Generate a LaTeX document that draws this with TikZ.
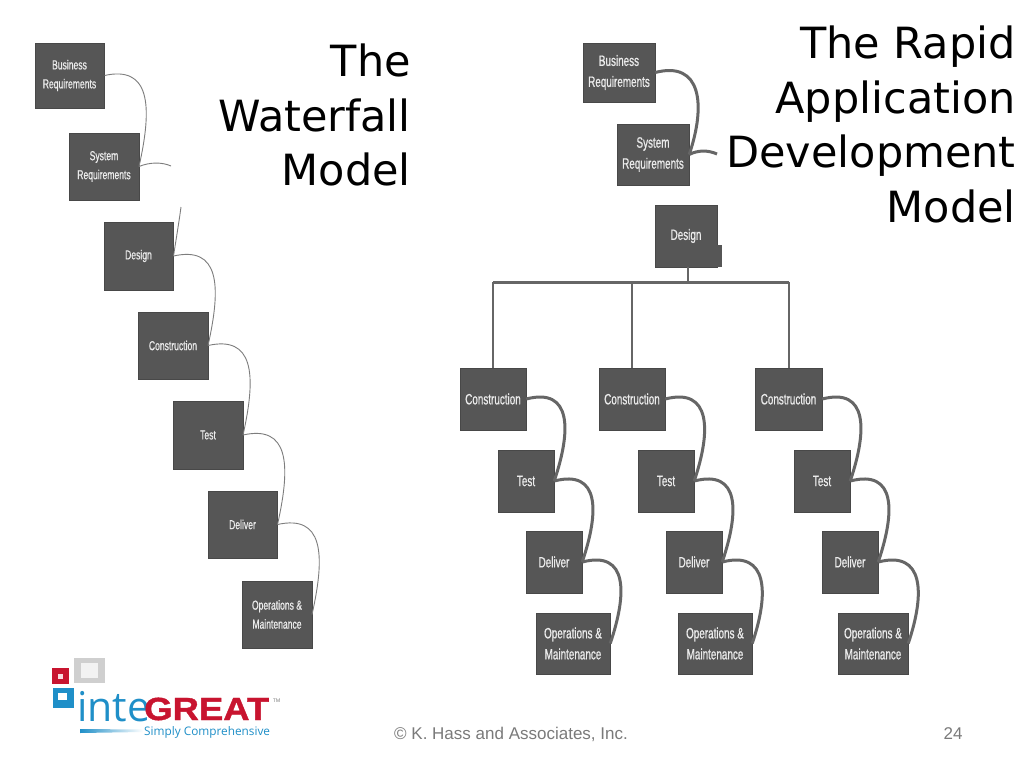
\documentclass[tikz,border=0pt]{standalone}
\usepackage{fontspec}
\setmainfont{Liberation Sans}
\newfontfamily\titlefont{DejaVu Sans}
\newfontfamily\boxfont[FakeStretch=0.66,FakeBold=0.7]{Liberation Sans}
\newfontfamily\logofont{Open Sans}
\newfontfamily\greatfont[FakeStretch=1.14,FakeBold=1.2]{Liberation Sans Bold}
\definecolor{boxgray}{HTML}{565656}
\definecolor{edgegray}{HTML}{484848}
\definecolor{linkgray}{HTML}{666666}
\definecolor{logored}{HTML}{C8142F}
\definecolor{logoblue}{HTML}{1F8FC8}
\definecolor{logogray}{HTML}{CFCFCF}
\definecolor{foot}{HTML}{7A7A7A}
\tikzset{
  wbox/.style={fill=boxgray,draw=edgegray,line width=0.4pt,text=white!92!black,inner sep=0pt,align=center,minimum width=69.6pt,minimum height=66.6pt,font=\boxfont\fontsize{13}{19}\selectfont},
  rbox/.style 2 args={fill=boxgray,draw=edgegray,line width=0.4pt,text=white!92!black,inner sep=0pt,align=center,minimum width=#1pt,minimum height=#2pt,font=\boxfont\fontsize{15}{21}\selectfont},
  thin link/.style={draw=linkgray!85,line width=0.9pt},
  thick link/.style={draw=linkgray,line width=3pt},
  tree/.style={draw=linkgray,line width=2pt},
  bigtitle/.style={inner sep=0pt,align=right,anchor=north east,font=\titlefont\fontsize{43}{54.5}\selectfont},
}
\newcommand{\wlink}[2]{\draw[thin link] (#1.east) .. controls +(45,-10) and +(14,-62) .. (#2.east);}
\newcommand{\rlink}[2]{\draw[thick link] (#1.east) .. controls +(46,-12) and +(17,-50) .. (#2.east);}
\begin{document}
\begin{tikzpicture}[x=1pt,y=-1pt]
\useasboundingbox (0,0) rectangle (1024,768);
\fill[white] (0,0) rectangle (1024,768);

% titles
\node[bigtitle] (t1) at (411,44) {The\\Waterfall\\Model};
\node[bigtitle] (t2) at (1016,26) {The Rapid\\Application\\Development\\Model};

% waterfall
\node[wbox,minimum height=65pt] (a1) at (69.5,75.5) {Business\\Requirements};
\node[wbox] (a2) at (104,166.5) {System\\Requirements};
\node[wbox,minimum height=68pt] (a3) at (138.5,256) {Design};
\node[wbox] (a4) at (173,345.5) {Construction};
\node[wbox,minimum height=68pt] (a5) at (208,435) {Test};
\node[wbox] (a6) at (242.5,524.5) {Deliver};
\node[wbox] (a7) at (277,614.5) {Operations \&\\Maintenance};
\coordinate (g1) at (171,166);
\coordinate (g2) at (181,207);
\wlink{a1}{a2}
\draw[thin link] (a2.east) .. controls (150,162) and (162,162) .. (g1);
\draw[thin link] (g2) .. controls (179,222) and (176,240) .. (a3.east);
\wlink{a3}{a4}
\wlink{a4}{a5}
\wlink{a5}{a6}
\wlink{a6}{a7}

% RAD
\node[rbox={72}{59}] (b1) at (619,72.5) {Business\\Requirements};
\node[rbox={72}{61}] (b2) at (653,154.5) {System\\Requirements};
\node[rbox={62}{62}] (b3) at (686,236) {Design};
\fill[boxgray] (714,245) rectangle (722,267);
\coordinate (g3) at (717,154);
\rlink{b1}{b2}
\draw[thick link] (b2.east) .. controls (698,150) and (708,150) .. (g3);

\node[rbox={66}{62}] (c1) at (493,399) {Construction};
\node[rbox={56}{62}] (d1) at (526,481) {Test};
\node[rbox={56}{62}] (e1) at (554,562) {Deliver};
\node[rbox={74}{61}] (f1) at (573,643.5) {Operations \&\\Maintenance};
\node[rbox={66}{62}] (c2) at (632,399) {Construction};
\node[rbox={56}{62}] (d2) at (666,481) {Test};
\node[rbox={56}{62}] (e2) at (694,562) {Deliver};
\node[rbox={74}{61}] (f2) at (715,643.5) {Operations \&\\Maintenance};
\node[rbox={67}{62}] (c3) at (788.5,399) {Construction};
\node[rbox={56}{62}] (d3) at (822,481) {Test};
\node[rbox={56}{62}] (e3) at (850,562) {Deliver};
\node[rbox={70}{61}] (f3) at (873,643.5) {Operations \&\\Maintenance};

\coordinate (bus) at (688,282);
\draw[tree] (688,267) -- (bus);
\draw[tree,line width=3pt] (c1.north |- bus) -- (c3.north |- bus);
\draw[tree] (c1.north |- bus) -- (c1.north);
\draw[tree] (c2.north |- bus) -- (c2.north);
\draw[tree] (c3.north |- bus) -- (c3.north);

\foreach \n in {1,2,3}{
  \rlink{c\n}{d\n}
  \rlink{d\n}{e\n}
  \rlink{e\n}{f\n}
}

% logo
\fill[logored] (52,668) rectangle (69,684);
\fill[white!85!logored] (58,674) rectangle (63,679);
\fill[logogray] (74,658) rectangle (105,683);
\fill[white!95!black] (81,663) rectangle (98,678);
\fill[logoblue] (53,688) rectangle (74,708);
\fill[white] (58,693) rectangle (67,700);
\node[inner sep=0pt,anchor=base west,text=logoblue,font=\logofont\fontsize{41}{41}\selectfont] (l1) at (77,721) {inte};
\node[inner sep=0pt,anchor=base west,text=logored,font=\greatfont\fontsize{32}{32}\selectfont] (l2) at (144,720) {GREAT};
\node[inner sep=0pt,anchor=base west,text=black!55,font=\logofont\fontsize{5}{5}\selectfont] (l3) at (273,702) {TM};
\node[inner sep=0pt,anchor=base west,text=logoblue,font=\logofont\fontsize{11.8}{12}\selectfont] (l4) at (144,735) {Simply Comprehensive};
\shade[left color=logoblue,right color=white] (80,729) -- (143,729.5) -- (143,732) -- (80,733) -- cycle;

% footer
\node[inner sep=0pt,anchor=base,text=foot,font=\fontsize{17}{17}\selectfont] (fa) at (511,739) {© K. Hass and Associates, Inc.};
\node[inner sep=0pt,anchor=base,text=foot,font=\fontsize{17}{17}\selectfont] (fb) at (953,739) {24};
\end{tikzpicture}
\end{document}
